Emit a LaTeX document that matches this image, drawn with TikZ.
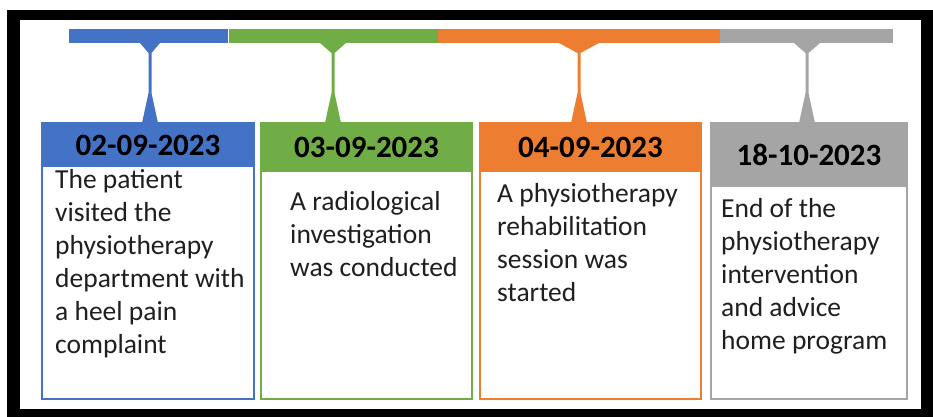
\documentclass[tikz,border=0pt]{standalone}
\usepackage{fontspec}
\setmainfont{Carlito}
\usepackage{tikz}
\usetikzlibrary{calc}
\usepackage{xcolor}
\definecolor{tlblue}{HTML}{4472C4}
\definecolor{tlgreen}{HTML}{70AD47}
\definecolor{tlorange}{HTML}{ED7D31}
\definecolor{tlgray}{HTML}{A5A5A5}

\begin{document}
\begin{tikzpicture}[x=1pt,y=-1pt,
  barseg/.style={fill=#1,anchor=north west,inner sep=0pt,minimum height=14pt},
  card/.style={draw=#1,fill=white,line width=2.5pt,anchor=north west,inner sep=0pt,outer sep=0pt,minimum height=276pt},
  head/.style={fill=#1,anchor=north west,inner sep=0pt,outer sep=0pt,font=\fontsize{31}{36}\selectfont\bfseries},
  body/.style={anchor=base west,inner sep=0pt,align=left,text=black!88,font=\fontsize{27.5}{33}\selectfont}]
  % Marco negro
  \useasboundingbox (0,0) rectangle (933,417);
  \fill[black] (7,10) rectangle (933,417);
  \fill[white] (20,20) rectangle (921,409);

  % Barra de tiempo
  \node[barseg=tlblue,minimum width=159pt] (bar1) at (69,29) {};
  \node[barseg=tlgreen,minimum width=209pt] (bar2) at (bar1.north east) {};
  \node[barseg=tlorange,minimum width=282pt] (bar3) at (bar2.north east) {};
  \node[barseg=tlgray,minimum width=173pt] (bar4) at (bar3.north east) {};

  \coordinate (s1) at (150,43);
  \coordinate (s2) at (333,43);
  \coordinate (s3) at (579,43);
  \coordinate (s4) at (807,43);

  % Tarjetas
  \node[card=tlblue,minimum width=212pt] (box1) at (42,123) {};
  \node[card=tlgreen,minimum width=211pt] (box2) at (261,123) {};
  \node[card=tlorange,minimum width=221pt] (box3) at (480,123) {};
  \node[card=tlgray,minimum width=196pt] (box4) at (711,123) {};

  % Conectores
  \foreach \i/\c/\w in {1/tlblue/10,2/tlgreen/13,3/tlorange/20,4/tlgray/13}{
    \fill[\c] ($(s\i)+(-\w,0)$) -- ($(s\i)+(-1.5,10)$)
      -- ($(s\i |- box\i.north)+(-1.5,-30)$) -- ($(s\i |- box\i.north)+(-8,0)$)
      -- ($(s\i |- box\i.north)+(8,0)$) -- ($(s\i |- box\i.north)+(1.5,-30)$)
      -- ($(s\i)+(1.5,10)$) -- ($(s\i)+(\w,0)$) -- cycle;
  }

  % Fechas
  \node[head=tlblue,minimum width=212pt,minimum height=44pt] (d1) at (box1.north west) {02-09-2023};
  \node[head=tlgreen,minimum width=211pt,minimum height=49pt] (d2) at (box2.north west) {03-09-2023};
  \node[head=tlorange,minimum width=221pt,minimum height=49pt] (d3) at (box3.north west) {04-09-2023};
  \node[head=tlgray,minimum width=196pt,minimum height=64pt] (d4) at (box4.north west) {18-10-2023};

  % Textos (base = ultima linea)
  \node[body] (t1) at (55,353) {The patient\\visited the\\physiotherapy\\department with\\a heel pain\\complaint};
  \node[body] (t2) at (290,276) {A radiological\\investigation\\was conducted};
  \node[body] (t3) at (497,301) {A physiotherapy\\rehabilitation\\session was\\started};
  \node[body] (t4) at (721,349) {End of the\\physiotherapy\\intervention\\and advice\\home program};
\end{tikzpicture}
\end{document}
